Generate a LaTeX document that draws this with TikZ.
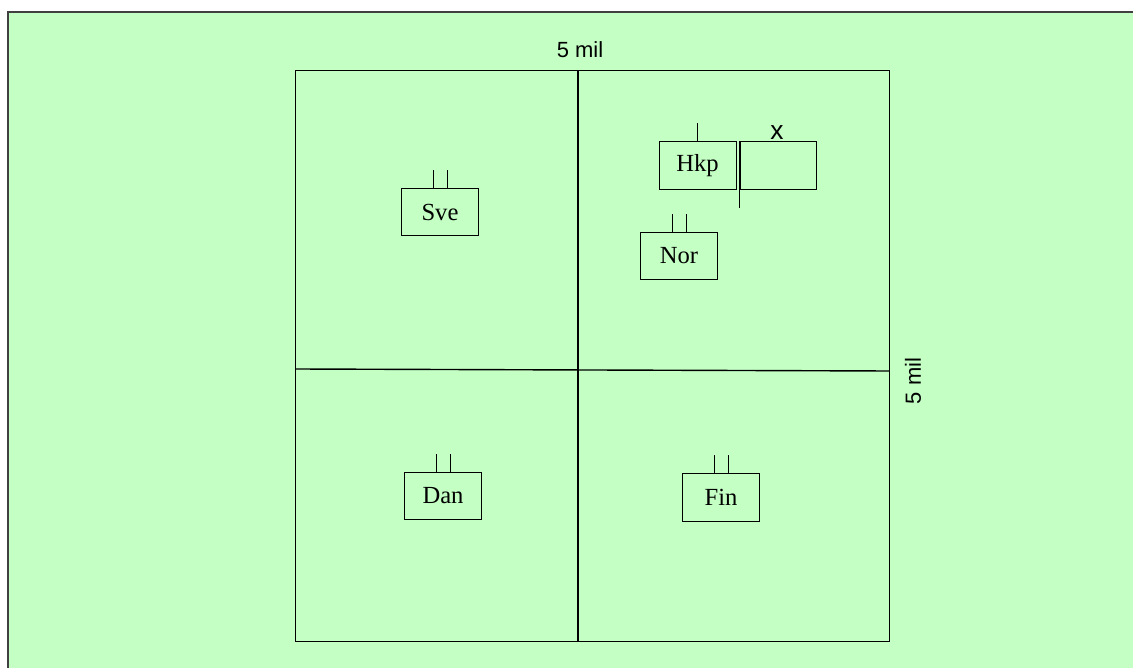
\documentclass[tikz,border=0pt]{standalone}
\usepackage{fontspec}
\setmainfont{Liberation Serif}
\newfontfamily\arial{Liberation Sans}
\usepackage{xcolor}
\usepackage{tikz}
\usetikzlibrary{calc}
\definecolor{bggreen}{HTML}{C4FFC4}

\begin{document}
\begin{tikzpicture}[x=0.02cm,y=-0.02cm,
    box/.style={draw,line width=0.5pt,minimum width=1.54cm,minimum height=0.95cm,inner sep=0pt,font=\fontsize{14}{16}\selectfont},
    milabel/.style={font=\arial\fontsize{12.5}{14}\selectfont}]
  \useasboundingbox (0,0) rectangle (1133,668);
  % background
  \fill[bggreen] (8,12) rectangle (1133,668);
  \draw[black!75,line width=0.7pt] (8,668) -- (8,12) -- (1133,12);
  % the square and its quarters
  \draw[line width=0.5pt] (295,70) rectangle (889,641);
  \draw[line width=0.8pt] (578,70) -- (578,641);
  \draw[line width=0.8pt] (295,369) -- (889,371);
  \node[milabel] (top) at (580,50) {5 mil};
  \node[milabel,rotate=90] (side) at (913,381) {5 mil};
  % boxes
  \node[box] (sve) at (440,212) {Sve};
  \node[box] (hkp) at (697.5,165.5) {Hkp};
  \node[box,minimum width=1.52cm] (xbox) at (778,165.5) {};
  \node[box] (nor) at (679,256) {Nor};
  \node[box] (dan) at (443,496) {Dan};
  \node[box] (fin) at (721,497.5) {Fin};
  \node[milabel,font=\arial\fontsize{15}{16}\selectfont] (xlab) at (777,133) {x};
  % ticks on top of the boxes
  \foreach \b in {sve,nor,dan,fin} {
    \draw[line width=0.5pt] ($(\b.north)+(-7,0)$) -- +(0,-18);
    \draw[line width=0.5pt] ($(\b.north)+(7,0)$) -- +(0,-18);
  }
  \draw[line width=0.5pt] (hkp.north) -- +(0,-18);
  \draw[line width=0.5pt] (xbox.north west) -- +(0,67);
\end{tikzpicture}
\end{document}
